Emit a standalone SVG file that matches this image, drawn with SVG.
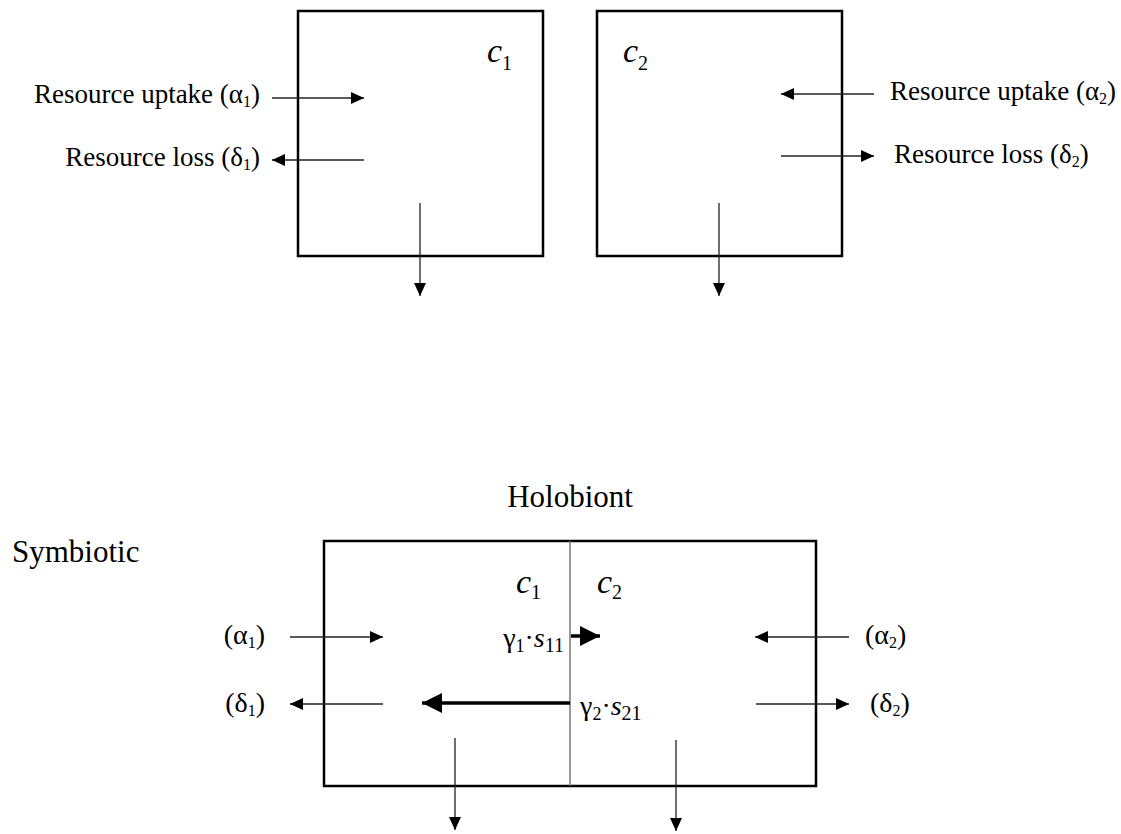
<svg xmlns="http://www.w3.org/2000/svg" width="1121" height="834" viewBox="0 0 1121 834">
<style>
text{font-family:"Liberation Serif","Times New Roman",serif;fill:#000}
.lbl{font-size:27px}
.lbl2{font-size:28px}
.big{font-size:31px}
.var{font-size:34px;font-style:italic}
.sub{font-size:20px;font-style:normal}
.box{fill:none;stroke:#000;stroke-width:2.5}
.thin{stroke:#222;stroke-width:1.3;fill:none}
.thick{stroke:#000;stroke-width:3.5;fill:none}
</style>
<defs>
<marker id="ah" markerUnits="userSpaceOnUse" markerWidth="13" markerHeight="12" refX="13" refY="6" orient="auto">
<path d="M0,0 L13,6 L0,12 z" fill="#000"/>
</marker>
<marker id="ahb" markerUnits="userSpaceOnUse" markerWidth="20" markerHeight="20" refX="20" refY="10" orient="auto">
<path d="M0,0 L20,10 L0,20 z" fill="#000"/>
</marker>
</defs>
<g id="box-c1">
<rect class="box" x="298" y="11" width="245" height="245"/>
<text class="var" x="487" y="62">c<tspan class="sub" dy="8">1</tspan></text>
</g>
<g id="box-c2">
<rect class="box" x="597" y="11" width="245" height="245"/>
<text class="var" x="623" y="62">c<tspan class="sub" dy="8">2</tspan></text>
</g>
<g id="labels-top">
<text class="lbl" x="260" y="103" text-anchor="end">Resource uptake (α<tspan font-size="16" dy="4">1</tspan><tspan dy="-4">)</tspan></text>
<text class="lbl" x="260" y="166" text-anchor="end">Resource loss (δ<tspan font-size="16" dy="4">1</tspan><tspan dy="-4">)</tspan></text>
<text class="lbl" x="890" y="100">Resource uptake (α<tspan font-size="16" dy="4">2</tspan><tspan dy="-4">)</tspan></text>
<text class="lbl" x="894" y="163">Resource loss (δ<tspan font-size="16" dy="4">2</tspan><tspan dy="-4">)</tspan></text>
</g>
<g id="holobiont">
<text class="big" x="570" y="507" text-anchor="middle">Holobiont</text>
<text class="big" x="12" y="562">Symbiotic</text>
<rect class="box" x="324" y="541" width="492" height="245"/>
<line x1="570" y1="541" x2="570" y2="786" stroke="#777" stroke-width="1.5"/>
<text class="var" x="516" y="593">c<tspan class="sub" dy="6">1</tspan></text>
<text class="var" x="597" y="593">c<tspan class="sub" dy="6">2</tspan></text>
<text x="564" y="647" text-anchor="end" font-size="28">γ<tspan font-size="18" dy="5">1</tspan><tspan dy="-5">·</tspan><tspan font-style="italic">s</tspan><tspan font-size="20" dy="5">11</tspan></text>
<text x="580" y="715" font-size="28">γ<tspan font-size="18" dy="5">2</tspan><tspan dy="-5">·</tspan><tspan font-style="italic">s</tspan><tspan font-size="20" dy="5">21</tspan></text>
<text class="lbl2" x="265" y="644" text-anchor="end">(α<tspan font-size="16" dy="4">1</tspan><tspan dy="-4">)</tspan></text>
<text class="lbl2" x="265" y="712" text-anchor="end">(δ<tspan font-size="16" dy="4">1</tspan><tspan dy="-4">)</tspan></text>
<text class="lbl2" x="865" y="644">(α<tspan font-size="16" dy="4">2</tspan><tspan dy="-4">)</tspan></text>
<text class="lbl2" x="870" y="712">(δ<tspan font-size="16" dy="4">2</tspan><tspan dy="-4">)</tspan></text>
</g>
<g id="connectors">
<line class="thin" x1="272" y1="98" x2="364" y2="98" marker-end="url(#ah)"/>
<line class="thin" x1="364" y1="160" x2="272" y2="160" marker-end="url(#ah)"/>
<line class="thin" x1="874" y1="94" x2="781" y2="94" marker-end="url(#ah)"/>
<line class="thin" x1="781" y1="156" x2="874" y2="156" marker-end="url(#ah)"/>
<line class="thin" x1="420" y1="203" x2="420" y2="296" marker-end="url(#ah)"/>
<line class="thin" x1="719" y1="203" x2="719" y2="296" marker-end="url(#ah)"/>
<line class="thin" x1="290" y1="637" x2="383" y2="637" marker-end="url(#ah)"/>
<line class="thin" x1="383" y1="704" x2="290" y2="704" marker-end="url(#ah)"/>
<line class="thin" x1="849" y1="637" x2="755" y2="637" marker-end="url(#ah)"/>
<line class="thin" x1="756" y1="704" x2="849" y2="704" marker-end="url(#ah)"/>
<line class="thick" x1="571" y1="636" x2="600" y2="636" marker-end="url(#ahb)"/>
<line class="thick" x1="570" y1="703" x2="422" y2="703" marker-end="url(#ahb)"/>
<line class="thin" x1="455" y1="738" x2="455" y2="830" marker-end="url(#ah)"/>
<line class="thin" x1="676" y1="740" x2="676" y2="831" marker-end="url(#ah)"/>
</g>
</svg>
